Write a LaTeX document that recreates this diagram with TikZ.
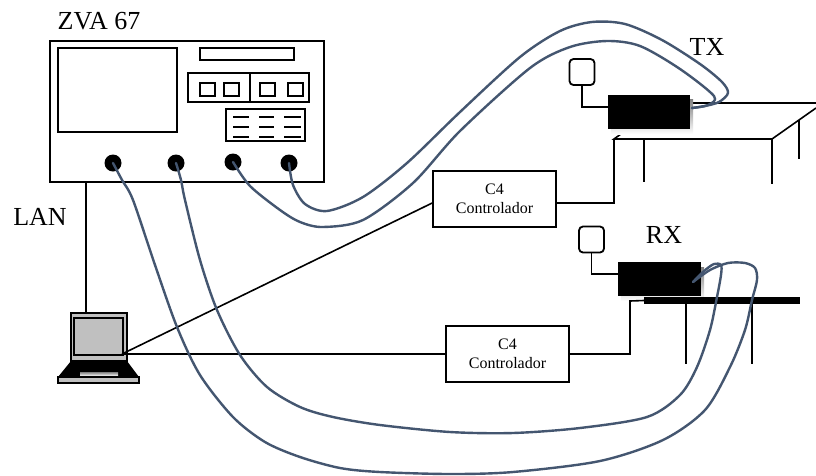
\documentclass[tikz,border=0pt]{standalone}
\usepackage{fontspec}
\setmainfont{Liberation Serif}
\usetikzlibrary{calc}
\definecolor{cablecol}{RGB}{68,86,112}
\definecolor{shade}{RGB}{192,192,192}

\begin{document}
\begin{tikzpicture}[x=1pt,y=-1pt,
  frame/.style={draw=black, line width=1.7pt, fill=white, inner sep=0pt},
  ctrlbox/.style={draw=black, line width=1.6pt, fill=white, minimum width=123pt,
    minimum height=56pt, align=center, inner sep=0pt,
    font=\fontsize{16pt}{19pt}\selectfont},
  biglabel/.style={font=\fontsize{26pt}{30pt}\selectfont, inner sep=0pt},
  wire/.style={draw=black, line width=1.6pt},
  cable/.style={draw=cablecol, line width=2.4pt, line cap=round, line join=round},
  port/.style={circle, fill=black, minimum size=17pt, inner sep=0pt},
  device/.style={fill=black, inner sep=0pt},
  antenna/.style={draw=black, line width=1.8pt, rounded corners=4pt,
    minimum width=25pt, minimum height=26pt, inner sep=0pt},
]
\useasboundingbox (0,0) rectangle (816,475);
\fill[white] (0,0) rectangle (816,475);

% ---------------- network analyser ----------------
\node[frame, minimum width=274pt, minimum height=141pt] (zva) at (187,111.5) {};
\node[biglabel] (zvalabel) at (99,21) {ZVA 67};
\begin{scope}[line width=1.6pt]
  \draw (58,48) rectangle (177,132);          % display
  \draw (200,48) rectangle (294,60);          % slot
  \draw (188,73) rectangle (309,102) (250,73) -- (250,102);
  \foreach \x in {200,224,260,288}
    \draw (\x,83) rectangle ++(15,13);
  \draw (226,109) rectangle (305,141);
  \foreach \x/\w in {233/16,259/15,284/17} {
    \draw (\x,117) -- ++(\w,0) (\x,127) -- ++(\w,0);
    \draw[line width=2.3pt] (\x,137) -- ++(\w,0);
  }
\end{scope}
\node[port] (p1) at (113,163) {};
\node[port] (p2) at (176,163) {};
\node[port] (p3) at (233,162) {};
\node[port] (p4) at (289,163) {};

% ---------------- laptop ----------------
\node[draw=black, line width=1.5pt, fill=shade, minimum width=56pt,
      minimum height=48pt, inner sep=0pt] (laptop) at (99,337) {};
\draw[line width=1.8pt, fill=shade] (74,318) rectangle (123,355);
\fill[black] (71,361) -- (127,361) -- (139,377) -- (58,377) -- cycle;
\fill[shade] (80,372) rectangle (118,376);
\draw[line width=1.4pt, fill=shade] (58,377) rectangle (139,383);
\coordinate (lan) at (122,354);

% LAN link
\coordinate (lanx) at (86,0);
\draw[wire] (lanx |- zva.south) -- (lanx |- laptop.north);
\node[biglabel] (lanlabel) at (40,217) {LAN};

% ---------------- TX table ----------------
\coordinate (txfl) at (614,139);
\coordinate (txfr) at (772,139);
\coordinate (txbl) at (664,103);
\coordinate (txbr) at (816,103);
\coordinate (txre) at (816,108);
\draw[wire] (txbl) -- (txbr);
\draw[wire] (txbl) -- (txfl) -- (txfr) -- (txre);
\draw[wire] (644,139) -- (644,182);
\draw[wire] (772,139) -- (772,184);
\draw[wire] (799,120) -- (799,159);

% TX unit
\fill[shade] (611,99) rectangle (693,134);
\node[device, minimum width=82pt, minimum height=34pt] (txdev) at (649,111.5) {};
\node[antenna] (txant) at (582,72) {};
\draw[wire] (txant.south) |- ([yshift=4.5pt]txdev.west);
\node[biglabel] (txlabel) at (707,47) {TX};
\coordinate (txend) at (692,108);

% ---------------- RX table ----------------
\fill[shade] (621,267) rectangle (704,301);
\node[device, minimum width=83pt, minimum height=34pt] (rxdev) at (659.5,279) {};
\node[device, minimum width=156pt, minimum height=7pt] (rxbar) at (722,300.5) {};
\draw[wire] (686,304) -- (686,364);
\draw[wire] (752,304) -- (752,364);
\node[antenna] (rxant) at (591.5,239.5) {};
\draw[wire] (rxant.south) |- ([yshift=5pt]rxdev.west);
\node[biglabel] (rxlabel) at (664,235) {RX};
\coordinate (rxend) at (693,282);

% ---------------- controllers ----------------
\node[ctrlbox] (c4a) at (494.5,199) {C4\\Controlador};
\node[ctrlbox] (c4b) at (507.5,354) {C4\\Controlador};
\coordinate (rxpost) at (630,301);
\draw[wire] (lan) -- ([yshift=-4pt]c4a.west);
\draw[wire] (lan) -- (c4b.west);
\draw[wire] ([yshift=-4pt]c4a.east) -| (txfl);
\draw[wire] (c4b.east) -| (rxpost) -- (rxbar.west);

% ---------------- RF cables ----------------
\draw[cable] plot[smooth] coordinates {(p4) (293,185) (305,204) (327,211)
  (363,197) (407,163) (460,112) (520,57) (560,31) (592,22) (625,24) (662,40)
  (700,64) (722,82) (728,93) (719,102) (705,106) (txend)};
\draw[cable] plot[smooth] coordinates {(p3) (250,186) (280,210) (300,222)
  (323,227) (363,220) (413,183) (460,131) (530,68) (570,47) (607,41) (640,46)
  (680,69) (714,96) (708,105) (txend)};
\draw[cable] plot[smooth] coordinates {(p1) (122,180) (133,200) (155,265)
  (177,327) (200,375) (233,417) (265,442) (300,457) (340,468) (380,472)
  (450,474) (513,472) (600,461) (663,440) (705,410) (730,367) (745,330)
  (752,300) (757,280) (755,268) (745,263) (728,263) (710,270) (rxend)};
\draw[cable] plot[smooth] coordinates {(p2) (181,180) (185,200) (200,260)
  (217,310) (240,355) (267,387) (300,407) (333,417) (380,425) (450,432)
  (513,433) (580,428) (647,417) (680,395) (697,367) (710,330) (717,297)
  (721,275) (721,265) (714,264) (704,271) (rxend)};
\end{tikzpicture}
\end{document}
